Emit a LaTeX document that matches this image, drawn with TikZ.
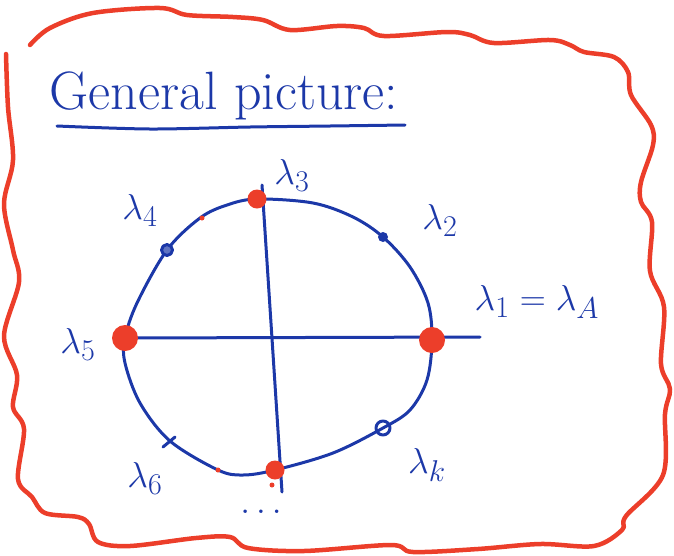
\documentclass[tikz,border=0pt]{standalone}
\usepackage{amsmath,amssymb}
\usepackage{graphicx}
\usepackage{tikz}
\usetikzlibrary{calc}
\usepackage{xcolor}
\definecolor{inkblue}{RGB}{28,56,168}
\definecolor{inkred}{RGB}{236,62,42}
\newcommand{\biglab}[1]{\scalebox{1.45}{$#1$}}

\begin{document}
\begin{tikzpicture}[
        x=1pt,y=-1pt,
        pen/.style={draw=inkblue,line width=3pt,line cap=round,line join=round},
        redpen/.style={draw=inkred,line width=4.5pt,line cap=round,line join=round},
        blob/.style={circle,fill=inkred,inner sep=0pt,minimum size=#1},
        blob/.default=24pt,
        speck/.style={circle,fill=inkred,inner sep=0pt,minimum size=5pt},
        lab/.style={text=inkblue,font=\Huge,inner sep=1pt}
      ]
      \useasboundingbox (0,0) rectangle (674,555);

      % red frame, one stroke round the page
      \draw[redpen] plot[smooth,tension=0.55] coordinates {
        (30,45) (50,28) (93,13) (160,8) (187,15) (233,17) (263,20) (290,30)
        (337,26) (364,28) (384,36) (447,32) (470,35) (494,43) (550,40) (570,45)
        (584,52) (614,57) (628,72) (631,95) (651,125) (653,145) (641,182) (641,202)
        (652,222) (650,271) (664,307) (661,364) (670,389) (665,414) (663,475)
        (626,516) (622,530) (594,546) (540,544) (478,549) (413,552) (391,545)
        (304,551) (248,548) (230,537) (196,538) (130,546) (98,542) (89,524)
        (78,517) (45,513) (32,497) (18,479) (24,429) (13,407) (17,375) (4,336)
        (19,282) (13,250) (4,204) (13,160) (8,107) (6,54)};

      % title
      \node[text=inkblue,font=\fontsize{54}{60}\selectfont] (title) at (224,96) {General picture:};
      \draw[pen] plot[smooth] coordinates {(57,126) (150,129) (250,127) (330,126) (405,125)};

      % points on the circle
      \coordinate (p1) at (432,340);
      \coordinate (p2) at (383,237);
      \coordinate (p3) at (257,199);
      \coordinate (p4) at (167,250);
      \coordinate (p5) at (125,338);
      \coordinate (p6) at (170,441);
      \coordinate (p7) at (275,470);
      \coordinate (p8) at (383,428);

      \draw[pen] plot[smooth cycle,tension=0.55] coordinates {
        (p3) (313,203) (353,217) (p2) (410,267) (428,303) (p1) (427,380) (410,410)
        (p8) (333,453) (p7) (243,475) (218,470) (p6) (140,403) (125,363) (p5)
        (137,303) (p4) (200,218) (227,205)};

      % axes
      \coordinate (xend) at (480,337);
      \coordinate (ytop) at (262,185);
      \coordinate (ybot) at (282,492);
      \draw[pen] (p5) -- (xend);
      \draw[pen] (ytop) -- (ybot);

      % marks on the circle
      \fill[inkblue] (p2) circle (5pt);
      \draw[pen,fill=inkblue!70] (p4) circle (5.5pt);
      \draw[pen] (p8) circle (7pt);
      \draw[pen] ($(p6)+(-7,6)$) -- ($(p6)+(5,-4)$);

      \node[blob=26pt] (b1) at (p1) {};
      \node[blob=19pt] (b3) at (p3) {};
      \node[blob=26pt] (b5) at (p5) {};
      \node[blob=19pt] (b7) at (p7) {};
      \node[speck] (s1) at (202,218) {};
      \node[speck] (s2) at (218,470) {};
      \node[speck] (s3) at (272,485) {};

      % labels
      \node[lab] (l1) at (537,302) {\biglab{\lambda_1 = \lambda_A}};
      \node[lab] (l2) at (440,220) {\biglab{\lambda_2}};
      \node[lab] (l3) at (292,175) {\biglab{\lambda_3}};
      \node[lab] (l4) at (140,210) {\biglab{\lambda_4}};
      \node[lab] (l5) at (78,344) {\biglab{\lambda_5}};
      \node[lab] (l6) at (145,478) {\biglab{\lambda_6}};
      \node[lab] (lk) at (427,465) {\biglab{\lambda_k}};
      \node[lab] (dots) at (264,512) {\biglab{\dots}};
    \end{tikzpicture}
\end{document}
